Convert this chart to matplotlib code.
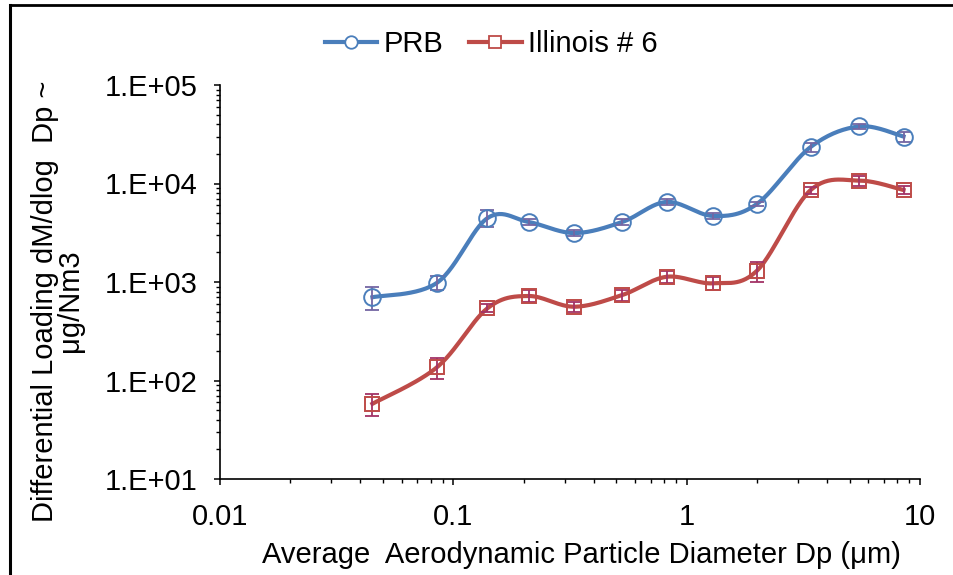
import numpy as np
import matplotlib
matplotlib.use("Agg")
import matplotlib.pyplot as plt
from matplotlib.ticker import FuncFormatter, LogLocator, NullFormatter
from matplotlib.lines import Line2D

plt.rcParams['font.family'] = ['Liberation Sans', 'DejaVu Sans']

# particle diameter (um)
dp = [0.045, 0.085, 0.14, 0.21, 0.33, 0.53, 0.82, 1.3, 2.0, 3.4, 5.5, 8.5]

prb = [700, 980, 4450, 4070, 3140, 4070, 6500, 4680, 6200, 23500, 38000, 30000]
prb_err = [180, 160, 870, 300, 200, 250, 450, 300, 300, 2500, 2000, 3500]

ill = [58, 136, 541, 721, 561, 738, 1130, 970, 1300, 8590, 10700, 8590]
ill_err = [14.5, 33, 50, 100, 70, 100, 150, 150, 290, 700, 1200, 800]

blue = "#4A7EBB"
red = "#BE4B48"
fs = 21


def smooth(x, y, n=30):
    # Catmull-Rom in log-log space, like Excel's smoothed line
    lx = np.log10(x)
    ly = np.log10(y)
    px = np.concatenate([[lx[0]], lx, [lx[-1]]])
    py = np.concatenate([[ly[0]], ly, [ly[-1]]])
    outx, outy = [], []
    t = np.linspace(0, 1, n)
    for i in range(1, len(px) - 2):
        for p, out in ((px, outx), (py, outy)):
            p0, p1, p2, p3 = p[i - 1], p[i], p[i + 1], p[i + 2]
            c1 = p1 + (p2 - p0) / 6
            c2 = p2 - (p3 - p1) / 6
            b = ((1 - t) ** 3 * p1 + 3 * (1 - t) ** 2 * t * c1
                 + 3 * (1 - t) * t ** 2 * c2 + t ** 3 * p2)
            out.extend(b)
    return 10 ** np.array(outx), 10 ** np.array(outy)


fig = plt.figure(figsize=(9.54, 5.75), dpi=100)
ax = fig.add_axes([220 / 954, 1 - 479 / 575, 700 / 954, 394 / 575])

sx, sy = smooth(dp, prb)
ax.plot(sx, sy, color=blue, lw=3, zorder=3)
ax.errorbar(dp, prb, yerr=prb_err, fmt="none", ecolor="#7466A3", elinewidth=1.3,
            capsize=5, capthick=1.3, zorder=4)
ax.plot(dp, prb, "o", mfc="none", mec=blue, ms=12, mew=1.4, zorder=5)

sx, sy = smooth(dp, ill)
ax.plot(sx, sy, color=red, lw=3, zorder=3)
ax.errorbar(dp, ill, yerr=ill_err, fmt="none", ecolor="#A33366", elinewidth=1.3,
            capsize=5, capthick=1.3, zorder=4)
ax.plot(dp, ill, "s", mfc="none", mec=red, ms=10.5, mew=1.4, zorder=5)

ax.set_xscale("log")
ax.set_yscale("log")
ax.set_xlim(0.01, 10)
ax.set_ylim(10, 1e5)

ax.xaxis.set_major_formatter(FuncFormatter(lambda v, p: "%g" % v))
ax.yaxis.set_major_formatter(FuncFormatter(lambda v, p: "1.E+%02d" % round(np.log10(v))))
ax.xaxis.set_minor_locator(LogLocator(subs=np.arange(2, 10)))
ax.yaxis.set_minor_locator(LogLocator(subs=np.arange(2, 10)))
ax.xaxis.set_minor_formatter(NullFormatter())
ax.yaxis.set_minor_formatter(NullFormatter())

ax.tick_params(which="major", direction="out", length=4, width=1.1, labelsize=fs)
ax.tick_params(which="minor", direction="out", length=3, width=1.0)
ax.tick_params(axis="y", which="major", pad=12)
ax.tick_params(axis="x", which="major", pad=13)
for s in ("top", "right"):
    ax.spines[s].set_visible(False)
for s in ("left", "bottom"):
    ax.spines[s].set_linewidth(1.2)

ax.set_xlabel("Average  Aerodynamic Particle Diameter Dp (\u03bcm)", fontsize=fs, labelpad=4)
ax.set_ylabel("Differential Loading dM/dlog  Dp ~\n\u03bcg/Nm3", fontsize=fs,
              linespacing=0.85)
ax.yaxis.set_label_coords(-0.194, 0.452)
ax.xaxis.set_label_coords(0.516, -0.157)

handles = [
    Line2D([], [], color=blue, lw=3, marker="o", mfc="white", mec=blue, ms=9, mew=1.3),
    Line2D([], [], color=red, lw=3, marker="s", mfc="white", mec=red, ms=8, mew=1.3),
]
fig.legend(handles, ["PRB", "Illinois # 6"], loc="center", bbox_to_anchor=(491 / 954, 1 - 44 / 575),
           ncol=2, frameon=False, fontsize=fs, handlelength=1.8, handletextpad=0.2,
           columnspacing=0.9)

# chart border (only top/left visible in the crop)
fig.add_artist(Line2D([10 / 954, 1], [1 - 5 / 575, 1 - 5 / 575], color="black", lw=2))
fig.add_artist(Line2D([10 / 954, 10 / 954], [0, 1 - 5 / 575], color="black", lw=2.2))

fig.savefig("out.png", dpi=100)
